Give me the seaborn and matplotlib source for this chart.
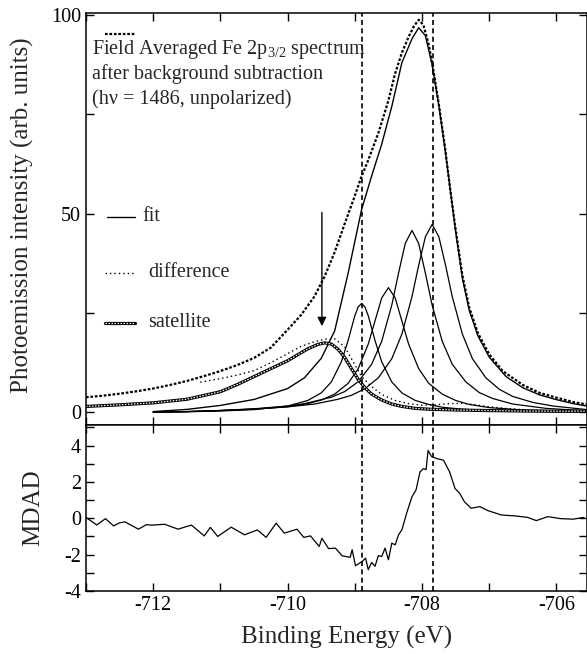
import matplotlib
matplotlib.use("Agg")
import matplotlib.pyplot as plt
from matplotlib.ticker import MultipleLocator
import seaborn as sns

# field averaged Fe 2p3/2 spectrum (binding energy in eV, intensity arb. units)
spec_e = [-713.0, -712.75, -712.5, -712.25, -712.0, -711.75, -711.5, -711.25, -711.0, -710.75,
          -710.5, -710.25, -710.0, -709.8, -709.6, -709.45, -709.3, -709.15, -709.0, -708.9,
          -708.8, -708.65, -708.5, -708.4, -708.3, -708.2, -708.12, -708.05, -707.98, -707.9,
          -707.84, -707.75, -707.66, -707.58, -707.5, -707.4, -707.3, -707.17, -707.0, -706.8,
          -706.5, -706.25, -706.0, -705.75, -705.55]
spec_i = [3.8, 4.2, 4.7, 5.3, 6.0, 6.9, 7.9, 9.1, 10.4, 11.9,
          13.7, 16.3, 20.8, 24.5, 29.2, 34.2, 40.3, 47.5, 54.5, 59.4,
          63.5, 70.3, 78.5, 85.3, 90.5, 94.5, 97.2, 98.8, 97.5, 92.5,
          87.0, 77.5, 66.9, 56.0, 46.0, 34.5, 26.5, 20.0, 14.6, 10.4,
          6.9, 4.9, 3.7, 2.6, 2.0]

# total fit
fit_e = [-712.0, -711.5, -711.0, -710.5, -710.0, -709.75, -709.5, -709.3, -709.1, -708.9,
         -708.75, -708.6, -708.45, -708.3, -708.15, -708.05, -707.95, -707.85, -707.75, -707.65,
         -707.5, -707.4, -707.3, -707.17, -707.0, -706.75, -706.5, -706.25, -706.0, -705.75, -705.55]
fit_i = [0.2, 0.75, 1.75, 3.25, 6.0, 8.7, 13.6, 20.5, 35.0, 51.0,
         59.5, 67.5, 77.0, 88.0, 94.0, 96.8, 94.8, 87.5, 77.2, 65.2,
         45.5, 33.8, 25.8, 19.3, 13.9, 9.0, 6.2, 4.4, 3.2, 2.2, 1.6]

# difference (data - fit)
diff_e = [-711.3, -711.0, -710.75, -710.5, -710.25, -710.0, -709.8, -709.6, -709.45, -709.3,
          -709.15, -709.0, -708.9, -708.75, -708.6, -708.4, -708.2, -708.0, -707.8, -707.6,
          -707.4, -707.2, -707.0, -706.7, -706.4, -706.0, -705.55]
diff_i = [7.6, 8.5, 9.4, 10.5, 12.5, 14.8, 16.6, 17.8, 18.4, 18.5,
          16.5, 12.0, 9.0, 6.5, 4.5, 3.0, 2.2, 1.8, 1.9, 2.2,
          2.3, 1.9, 1.4, 0.9, 0.6, 0.4, 0.3]

# satellite
sat_e = [-713.0, -712.5, -712.0, -711.5, -711.0, -710.75, -710.5, -710.25, -710.0, -709.85,
         -709.7, -709.55, -709.45, -709.35, -709.25, -709.15, -709.05, -708.95, -708.85, -708.75,
         -708.6, -708.45, -708.3, -708.1, -707.9, -707.5, -707.0, -706.5, -706.0, -705.55]
sat_i = [1.5, 1.9, 2.4, 3.3, 5.2, 7.0, 9.0, 11.0, 13.0, 14.5,
         16.0, 17.1, 17.5, 17.2, 15.9, 13.8, 11.0, 8.3, 6.2, 4.6,
         3.1, 2.1, 1.5, 1.0, 0.8, 0.6, 0.45, 0.35, 0.3, 0.3]

# the four fitted components
c1_e = [-712.0, -711.5, -711.0, -710.5, -710.0, -709.7, -709.5, -709.35, -709.2, -709.1,
        -709.0, -708.95, -708.9, -708.85, -708.8, -708.7, -708.6, -708.45, -708.3, -708.1,
        -707.9, -707.7, -707.4, -707.0, -706.5, -706.0, -705.55]
c1_i = [0.05, 0.15, 0.35, 0.7, 1.6, 3.0, 4.9, 7.65, 12.75, 18.1,
        24.3, 26.55, 27.4, 26.55, 24.3, 18.1, 12.75, 7.65, 4.9, 3.0,
        2.0, 1.3, 0.8, 0.45, 0.25, 0.15, 0.1]
c2_e = [-712.0, -711.5, -711.0, -710.5, -710.0, -709.7, -709.5, -709.3, -709.1, -708.95,
        -708.8, -708.7, -708.6, -708.5, -708.4, -708.3, -708.2, -708.05, -707.9, -707.7,
        -707.5, -707.3, -707.0, -706.5, -706.0, -705.55]
c2_i = [0.05, 0.2, 0.45, 0.8, 1.4, 2.2, 3.1, 4.6, 7.3, 11.0,
        17.2, 23.0, 28.8, 31.4, 28.8, 23.0, 17.2, 11.0, 7.3, 4.6,
        3.0, 2.0, 1.2, 0.6, 0.35, 0.2]
c3_e = [-712.0, -711.5, -711.0, -710.5, -710.0, -709.75, -709.35, -709.15, -708.95, -708.75,
        -708.6, -708.45, -708.35, -708.25, -708.15, -708.05, -707.95, -707.85, -707.7, -707.55,
        -707.35, -707.15, -706.95, -706.65, -706.15, -705.55]
c3_i = [0.05, 0.2, 0.5, 0.9, 1.6, 2.2, 3.8, 5.25, 7.7, 12.1,
        17.9, 27.0, 35.0, 42.5, 45.8, 42.5, 35.0, 27.0, 17.9, 12.1,
        7.7, 5.0, 3.5, 2.1, 1.0, 0.4]
c4_e = [-712.0, -711.5, -711.0, -710.5, -710.0, -709.6, -709.25, -709.05, -708.85, -708.65,
        -708.45, -708.3, -708.15, -708.05, -707.95, -707.85, -707.75, -707.65, -707.55, -707.4,
        -707.25, -707.05, -706.85, -706.65, -706.35, -706.05, -705.55]
c4_i = [0.05, 0.2, 0.45, 0.85, 1.4, 2.1, 3.3, 4.3, 5.96, 8.7,
        13.5, 19.7, 29.1, 37.0, 44.2, 47.3, 44.2, 37.0, 29.1, 19.7,
        13.5, 8.7, 5.8, 4.0, 2.5, 1.6, 0.7]

# MDAD
mdad_e = [-713.0, -712.84, -712.71, -712.59, -712.5, -712.42, -712.22, -712.1, -712.02, -711.83,
          -711.63, -711.5, -711.43, -711.24, -711.15, -711.04, -710.84, -710.64, -710.45, -710.32,
          -710.17, -710.05, -709.86, -709.76, -709.66, -709.53, -709.49, -709.39, -709.29, -709.19,
          -709.07, -709.04, -708.99, -708.89, -708.84, -708.8, -708.75, -708.7, -708.65, -708.6,
          -708.55, -708.5, -708.45, -708.4, -708.35, -708.3, -708.23, -708.15, -708.09, -708.03,
          -707.98, -707.94, -707.91, -707.86, -707.78, -707.68, -707.59, -707.51, -707.44, -707.37,
          -707.27, -707.14, -707.02, -706.82, -706.62, -706.43, -706.3, -706.13, -705.94, -705.75,
          -705.59]
mdad_v = [0.05, -0.37, -0.02, -0.42, -0.25, -0.2, -0.6, -0.35, -0.38, -0.33,
          -0.6, -0.45, -0.38, -0.97, -0.5, -1.0, -0.49, -0.91, -0.64, -1.05,
          -0.27, -0.82, -0.6, -1.05, -0.97, -1.55, -1.1, -1.67, -1.64, -2.06,
          -2.15, -1.73, -2.61, -2.37, -2.19, -2.83, -2.43, -2.64, -2.06, -2.1,
          -1.64, -2.28, -1.37, -1.46, -0.91, -0.64, 0.27, 1.18, 1.55, 2.55,
          2.73, 2.67, 3.73, 3.4, 3.28, 3.19, 2.55, 1.64, 1.37, 0.91,
          0.55, 0.64, 0.42, 0.18, 0.13, 0.05, -0.13, 0.09, -0.02, -0.05,
          0.05]

# marked peak positions
peak_lines = [-708.9, -707.83]

sns.set_style("ticks")
plt.rcParams['font.family'] = ['Liberation Serif', 'DejaVu Serif']
plt.rcParams['mathtext.fontset'] = 'custom'
plt.rcParams['mathtext.rm'] = 'Liberation Serif'
plt.rcParams['axes.unicode_minus'] = False

fig = plt.figure(figsize=(5.87, 6.54), dpi=100)
ax1 = fig.add_axes([0.1465, 0.3494, 0.853, 0.6307])
ax2 = fig.add_axes([0.1465, 0.0963, 0.853, 0.2531])

k = 'black'
for ce, ci in [(c1_e, c1_i), (c2_e, c2_i), (c3_e, c3_i), (c4_e, c4_i)]:
    sns.lineplot(x=ce, y=ci, ax=ax1, color=k, lw=0.9)
sns.lineplot(x=fit_e, y=fit_i, ax=ax1, color=k, lw=1.0)
sns.lineplot(x=diff_e, y=diff_i, ax=ax1, color=k, lw=1.0, linestyle=(0, (1, 2.2)))
sns.lineplot(x=sat_e, y=sat_i, ax=ax1, color=k, lw=2.3)
sns.lineplot(x=sat_e, y=sat_i, ax=ax1, color='white', lw=0.9, linestyle=(0, (1.2, 1.2)))
sns.lineplot(x=spec_e, y=spec_i, ax=ax1, color=k, lw=1.6, linestyle=(0, (1.2, 0.8)))

ax1.annotate('', xy=(-709.49, 21.0), xytext=(-709.49, 51.0),
             arrowprops=dict(arrowstyle='-|>', color=k, lw=1.0, mutation_scale=13))

sns.lineplot(x=mdad_e, y=mdad_v, ax=ax2, color=k, lw=0.9)

for ax in (ax1, ax2):
    for xv in peak_lines:
        ax.axvline(xv, color=k, lw=1.2, linestyle=(0, (3, 2)))
    ax.set_xlim(-713, -705.55)
    ax.xaxis.set_major_locator(MultipleLocator(2))
    ax.xaxis.set_minor_locator(MultipleLocator(1))
    ax.tick_params(which='both', direction='in', top=True, right=True,
                   length=6, width=1, labelsize=14.5, colors=k)
    for s in ax.spines.values():
        s.set_linewidth(1.1)
        s.set_color(k)
    ax.set_xlabel('')
    ax.set_ylabel('')

ax1.set_ylim(-3.3, 100.5)
ax1.yaxis.set_major_locator(MultipleLocator(50))
ax1.yaxis.set_minor_locator(MultipleLocator(25))
ax1.tick_params(labelbottom=False)

ax2.set_ylim(-4, 5.1)
ax2.set_yticks([-4, -2, 0, 2, 4])
ax2.yaxis.set_minor_locator(MultipleLocator(1))
ax2.set_xticks([-712, -710, -708, -706])

# legend drawn by hand, as in the original figure
tr = ax1.transAxes
ax1.plot([0.038, 0.098], [0.949, 0.949], transform=tr, color=k, lw=1.6,
         linestyle=(0, (1.2, 0.8)), clip_on=False)
txt = dict(transform=tr, fontsize=14.5, va='center', ha='left')
ax1.text(0.012, 0.912, 'Field Averaged Fe 2p$_{3/2}$ spectrum', **txt)
ax1.text(0.012, 0.852, 'after background subtraction', **txt)
ax1.text(0.012, 0.792, '(hν = 1486, unpolarized)', **txt)
ax1.plot([0.042, 0.098], [0.5055, 0.5055], transform=tr, color=k, lw=1.0)
ax1.text(0.112, 0.5055, 'fit', **txt)
ax1.plot([0.038, 0.098], [0.370, 0.370], transform=tr, color=k, lw=1.0,
         linestyle=(0, (1, 2.2)))
ax1.text(0.124, 0.370, 'difference', **txt)
ax1.plot([0.038, 0.098], [0.2485, 0.2485], transform=tr, color=k, lw=2.3)
ax1.plot([0.038, 0.098], [0.2485, 0.2485], transform=tr, color='white', lw=0.9,
         linestyle=(0, (1.2, 1.2)))
ax1.text(0.124, 0.2485, 'satellite', **txt)

fig.text(0.0375, 0.671, 'Photoemission intensity (arb. units)', rotation=90,
         ha='center', va='center', fontsize=18)
fig.text(0.056, 0.223, 'MDAD', rotation=90, ha='center', va='center', fontsize=18)
fig.text(0.59, 0.026, 'Binding Energy (eV)', ha='center', va='center', fontsize=18)

fig.savefig('out.png', dpi=100)
